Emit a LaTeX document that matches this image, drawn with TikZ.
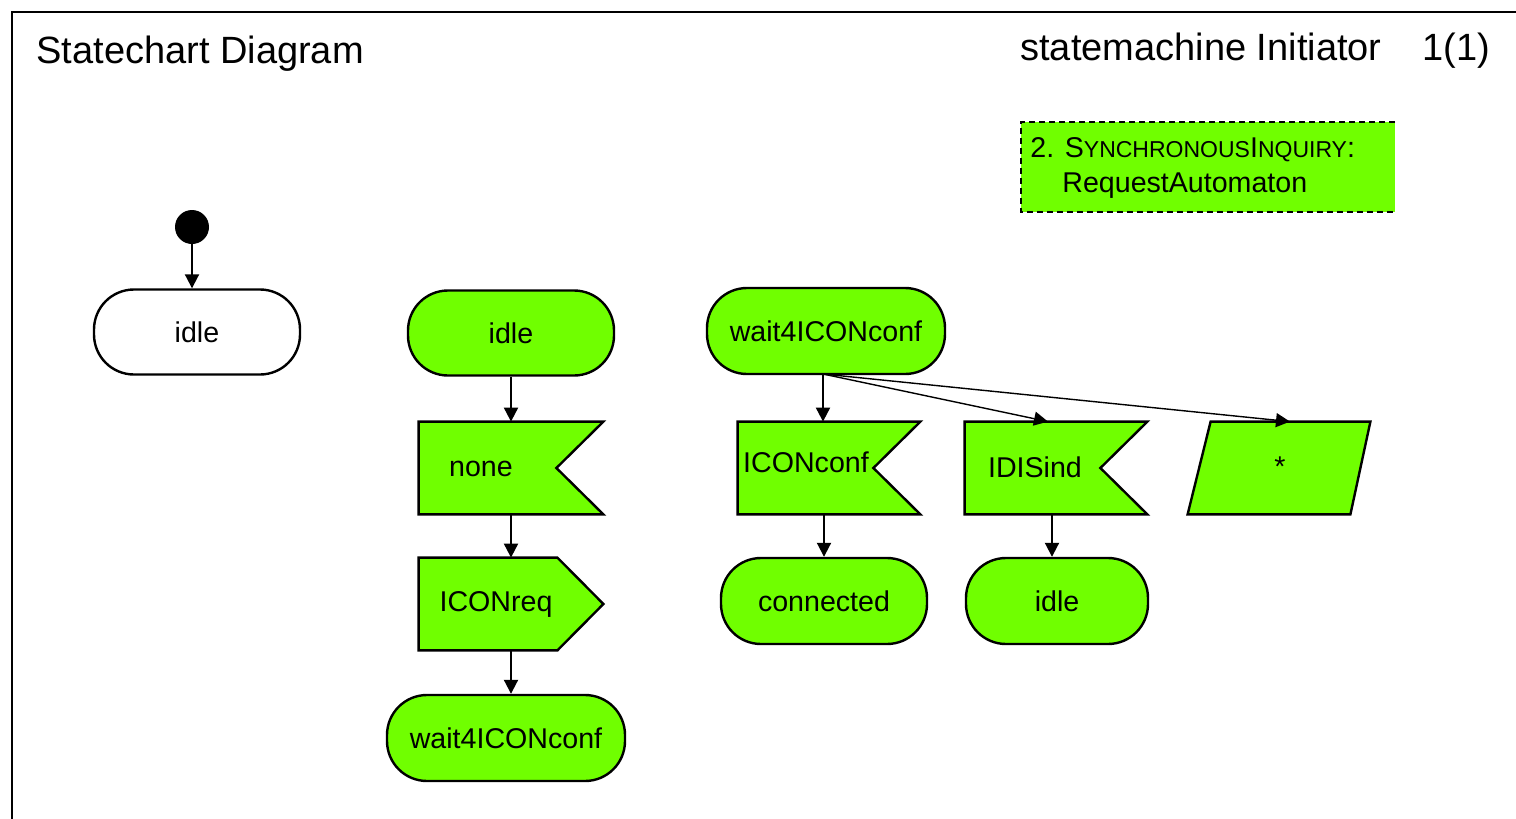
\documentclass[tikz,border=0pt]{standalone}
\usepackage{fontspec}
\setmainfont{Liberation Sans}
\usetikzlibrary{arrows.meta,calc}

\definecolor{sdlgreen}{RGB}{112,255,0}
\newcommand{\smallcap}[1]{{\fontsize{11.5}{14}\selectfont #1}}

\tikzset{
	state/.style={rectangle, rounded corners=20pt, draw, line width=1.2pt, fill=sdlgreen, minimum height=42.5pt, inner sep=0pt, font=\fontsize{14.3}{17}\selectfont},
	startstate/.style={state, fill=white},
	sigbox/.style={rectangle, minimum width=91pt, minimum height=46pt, inner sep=0pt},
	sigline/.style={draw, line width=1.2pt, fill=sdlgreen, line join=miter},
	lbl/.style={font=\fontsize{14.3}{17}\selectfont, inner sep=0pt},
	head/.style={font=\fontsize{19}{23}\selectfont, inner sep=0pt, anchor=base west},
	trans/.style={-{Triangle[length=7pt,width=7pt]}, line width=1pt},
	thintrans/.style={-{Triangle[length=7pt,width=7pt]}, line width=0.7pt}
}

\begin{document}
\begin{tikzpicture}[x=0.5pt, y=-0.5pt]
	\useasboundingbox (0,0) rectangle (1516,819);
	% Frame and heading
	\draw[line width=1pt] (12,819) -- (12,12) -- (1516,12);
	\node[head] (title) at (36,63) {Statechart Diagram};
	\node[head] (machine) at (1020,61) {statemachine Initiator};
	\node[head] (page) at (1422,61) {1(1)};
	% Note
	\fill[sdlgreen] (1021,122) rectangle (1395,212);
	\draw[line width=1.3pt, dash pattern=on 3pt off 2pt] (1395,122) -- (1021,122) -- (1021,212) -- (1395,212);
	\node[lbl, anchor=base west] (note1) at (1030,157) {2. S\smallcap{YNCHRONOUS}I\smallcap{NQUIRY}:};
	\node[lbl, anchor=base west] (note2) at (1062,192) {RequestAutomaton};
	% Start
	\node[circle, fill, inner sep=0pt, minimum size=17pt] (init) at (192,227) {};
	\node[startstate, minimum width=103pt] (idle0) at (197,332) {idle};
	\draw[trans] (init) -- (init |- idle0.north);
	% Transition from idle
	\node[state, minimum width=103pt] (idle1) at (511,333) {idle};
	\node[sigbox, minimum width=92pt] (none) at (511,468) {};
	\draw[sigline] (none.north west) -- (none.north east) -- ($(none.east)+(-47,0)$) -- (none.south east) -- (none.south west) -- cycle;
	\node[lbl] (nonetxt) at (481,469) {none};
	\node[sigbox, minimum width=92pt] (iconreq) at (511,604) {};
	\draw[sigline] (iconreq.north west) -- ($(iconreq.north east)+(-46,0)$) -- (iconreq.east) -- ($(iconreq.south east)+(-46,0)$) -- (iconreq.south west) -- cycle;
	\node[lbl] (iconreqtxt) at (496,604) {ICONreq};
	\node[state, minimum width=119pt, minimum height=43pt] (wait1) at (506,738) {wait4ICONconf};
	\draw[trans] (idle1.south) -- (none.north);
	\draw[trans] (none.south) -- (iconreq.north);
	\draw[trans] (iconreq.south) -- (iconreq.south |- wait1.north);
	% Transitions from wait4ICONconf
	\node[state, minimum width=119pt, minimum height=43pt] (wait2) at (826,331) {wait4ICONconf};
	\coordinate (fork) at (823,374);
	\node[sigbox] (iconconf) at (829,468) {};
	\draw[sigline] (iconconf.north west) -- (iconconf.north east) -- ($(iconconf.east)+(-47,0)$) -- (iconconf.south east) -- (iconconf.south west) -- cycle;
	\node[lbl] (iconconftxt) at (806,462) {ICONconf};
	\node[sigbox] (idis) at (1056,468) {};
	\draw[sigline] (idis.north west) -- (idis.north east) -- ($(idis.east)+(-47,0)$) -- (idis.south east) -- (idis.south west) -- cycle;
	\node[lbl] (idistxt) at (1035,467) {IDISind};
	\node[sigbox] (star) at (1279,468) {};
	\draw[sigline] ($(star.north west)+(23,0)$) -- (star.north east) -- ($(star.south east)+(-20,0)$) -- (star.south west) -- cycle;
	\node[lbl] (startxt) at (1280,467) {*};
	\node[state, minimum width=103pt, minimum height=43pt] (connected) at (824,601) {connected};
	\node[state, minimum width=91pt, minimum height=43pt] (idle2) at (1057,601) {idle};
	\coordinate (idisout) at ($(idis.south)+(-4,0)$);
	\draw[trans] (fork) -- (fork |- iconconf.north);
	\draw[thintrans] (fork) -- ($(idis.north)+(-8,0)$);
	\draw[thintrans] (fork) -- ($(star.north)+(11,0)$);
	\draw[trans] (connected.north |- iconconf.south) -- (connected.north);
	\draw[trans] (idisout) -- (idisout |- idle2.north);
\end{tikzpicture}
\end{document}
